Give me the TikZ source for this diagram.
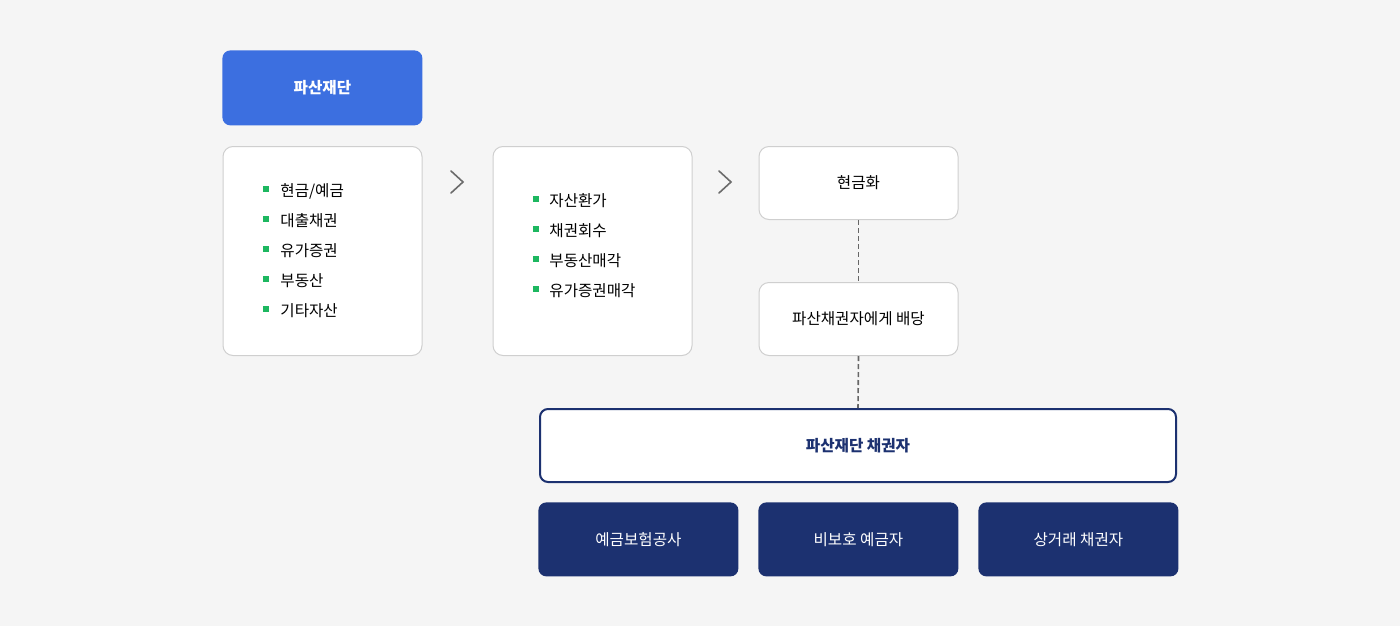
\documentclass[tikz,border=0pt]{standalone}
\usepackage{fontspec}
\setmainfont{Noto Sans CJK KR}
\usepackage{xcolor}
\usepackage{tikz}
\usetikzlibrary{calc}
\definecolor{bg}{HTML}{F5F5F5}
\definecolor{blue}{HTML}{3C6FE0}
\definecolor{navy}{HTML}{1C3170}
\definecolor{edge}{HTML}{CFCFCF}
\definecolor{green}{HTML}{1DB760}
\definecolor{chev}{HTML}{6B6B6B}
\definecolor{dash}{HTML}{666666}
\tikzset{
  lab/.style={font=\fontsize{7.8}{9}\selectfont},
  card/.style={draw=edge, fill=white, line width=0.5pt, rounded corners=5pt, minimum width=99.5pt, anchor=north west},
  head/.style={fill=blue, rounded corners=4pt, minimum width=100pt, minimum height=37.5pt, anchor=north west, text=white, font=\fontsize{7.8}{9}\selectfont\bfseries},
  crbox/.style={draw=navy, fill=white, line width=1pt, rounded corners=4pt, minimum width=318pt, minimum height=36.5pt, anchor=north west, text=navy, font=\fontsize{7.8}{9}\selectfont\bfseries},
  kind/.style={fill=navy, rounded corners=4pt, minimum width=100pt, minimum height=37pt, anchor=north west, text=white, lab},
  item/.style={lab, anchor=west, inner sep=0pt},
  bullet/.style={fill=green, minimum size=3pt, inner sep=0pt},
  link/.style={draw=dash, line width=0.8pt, dash pattern=on 2.5pt off 1.5pt},
  chevron/.style={draw=chev, line width=0.8pt, line cap=round, line join=miter}
}

\begin{document}
\begin{tikzpicture}[x=0.5pt,y=-0.5pt]
  \fill[bg] (0,0) rectangle (1400,626);
  \useasboundingbox (0,0) rectangle (1400,626);

  \node[head] (estate) at (222,50) {파산재단};
  \node[card, minimum height=104.5pt] (assets) at (222.5,146) {};
  \node[card, minimum height=104.5pt] (sale) at (492.5,146) {};
  \node[card, minimum height=36.5pt, lab] (cash) at (758.5,146) {현금화};
  \node[card, minimum height=36.5pt, lab] (pay) at (758.5,282) {파산채권자에게 배당};
  \node[crbox] (cred) at (539,408) {파산재단 채권자};
  \node[kind] (k1) at (538,502) {예금보험공사};
  \node[kind] (k2) at (758,502) {비보호 예금자};
  \node[kind] (k3) at (978,502) {상거래 채권자};

  % bullet lists
  \foreach \t [count=\i] in {현금/예금,대출채권,유가증권,부동산,기타자산}{
    \node[item] (a\i) at (280,161+30*\i) {\t};
    \node[bullet] (ba\i) at (266,189+30*\i-30) {};
  }
  \foreach \t [count=\i] in {자산환가,채권회수,부동산매각,유가증권매각}{
    \node[item] (s\i) at (549,171+30*\i) {\t};
    \node[bullet] (bs\i) at (536,199+30*\i-30) {};
  }

  % chevrons
  \coordinate (c1) at (457,182);
  \coordinate (c2) at (725,182);
  \foreach \c in {c1,c2}
    \draw[chevron] ($(\c)+(-6,-11)$) -- ($(\c)+(6,0)$) -- ($(\c)+(-6,11)$);

  \draw[link] (cash.south) -- (pay.north);
  \draw[link] (pay.south) -- (cred.north);
\end{tikzpicture}
\end{document}
